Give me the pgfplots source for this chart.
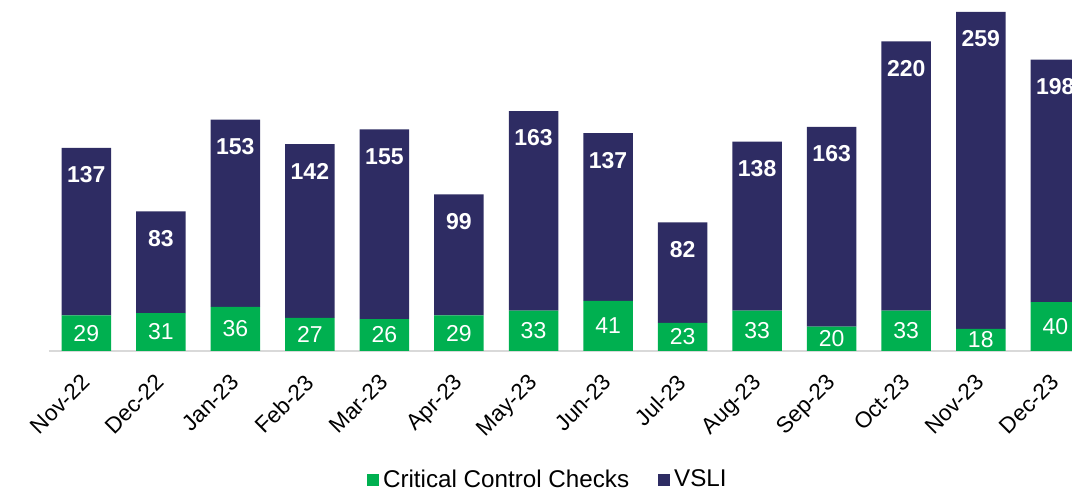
\documentclass[border=0pt]{standalone}
\usepackage{pgfplots}
\usepackage{pgfplotstable}
\pgfplotsset{compat=1.18}
\usepackage{fontspec}
\setmainfont{Liberation Sans}
\definecolor{ccgreen}{HTML}{00B050}
\definecolor{vsnavy}{HTML}{2E2C63}
\definecolor{axgray}{HTML}{D9D9D9}
\pgfplotstableread{
x g v
0 29 137
1 31 83
2 36 153
3 27 142
4 26 155
5 29 99
6 33 163
7 41 137
8 23 82
9 33 138
10 20 163
11 33 220
12 18 259
13 40 198
}\data
\begin{document}
\begin{tikzpicture}
\begin{scope}
\clip (-24.5pt,-69.5pt) rectangle (511.5pt,175.5pt);
\begin{axis}[
  at={(0pt,0pt)}, anchor=south west,
  x=37.27pt, y=0.612pt,
  xmin=-0.5, xmax=13.5, ymin=0, ymax=286.8,
  ybar stacked, bar width=24.75pt,
  axis x line*=bottom, axis y line=none,
  axis line style={draw=axgray, line width=0.75pt},
  xtick={0,...,13},
  xticklabels={Nov-22,Dec-22,Jan-23,Feb-23,Mar-23,Apr-23,May-23,Jun-23,Jul-23,Aug-23,Sep-23,Oct-23,Nov-23,Dec-23},
  major tick length=0pt,
  xticklabel style={rotate=45, anchor=north east, font=\fontsize{11.25}{13}\selectfont, inner sep=0pt, xshift=-9.8pt, yshift=-5.3pt},
  ytick=\empty,
  legend style={at={(0.479,-0.3675)}, anchor=center, draw=none, fill=none,
    legend columns=2, font=\fontsize{12.1}{14}\selectfont,
    /tikz/every even column/.append style={column sep=12.5pt}},
  legend image code/.code={\fill[#1] (0pt,-3pt) rectangle (6pt,3pt);},
  legend cell align=left,
]
\addplot[fill=ccgreen, draw=none] table[x=x, y=g] {\data};
\addlegendentry{Critical Control Checks}
\addplot[fill=vsnavy, draw=none] table[x=x, y=v] {\data};
\addlegendentry{VSLI}
\end{axis}
\begin{axis}[
  at={(0pt,0pt)}, anchor=south west,
  x=37.27pt, y=0.612pt,
  xmin=-0.5, xmax=13.5, ymin=0, ymax=286.8,
  hide axis,
]
\addplot[draw=none, mark=none,
  point meta=explicit symbolic, nodes near coords,
  every node near coord/.append style={anchor=center, text=white, font=\fontsize{11.5}{13}\selectfont}]
  table[x=x, y expr=\thisrow{g}/2, meta=g] {\data};
\addplot[draw=none, mark=none,
  point meta=explicit symbolic, nodes near coords,
  every node near coord/.append style={anchor=center, text=white, font=\fontsize{11.5}{13}\selectfont\bfseries}]
  table[x=x, y expr=\thisrow{g}+\thisrow{v}-22.06, meta=v] {\data};
\end{axis}
\end{scope}
\pgfresetboundingbox
\useasboundingbox (-24.5pt,-69.5pt) rectangle (511.5pt,175.5pt);
\end{tikzpicture}
\end{document}
